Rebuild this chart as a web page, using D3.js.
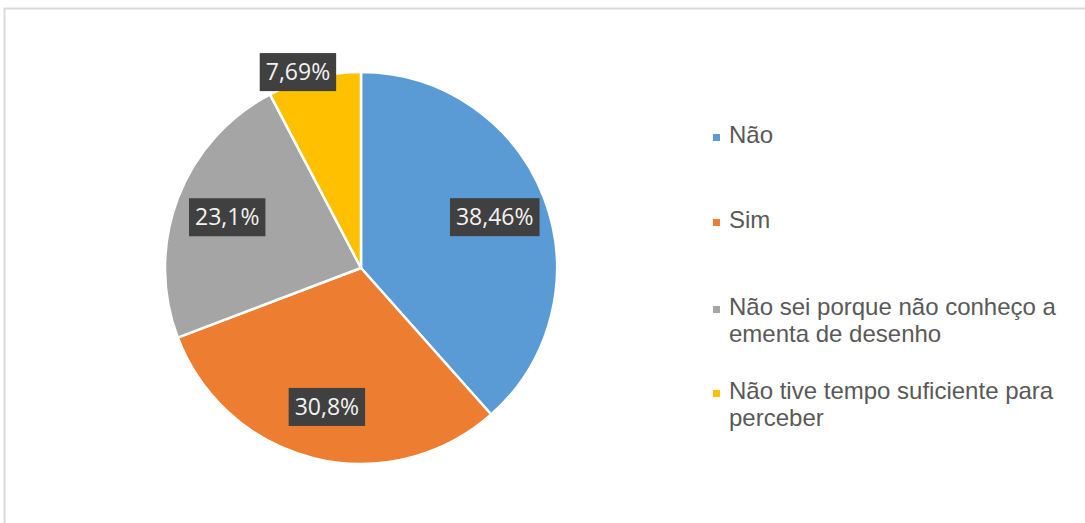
<html>
<head>
<script src="https://cdnjs.cloudflare.com/ajax/libs/d3/7.8.5/d3.min.js"></script>
<style>
  body { margin: 0; background: #fff; }
  svg { display: block; }
</style>
</head>
<body>
<script>
var categories = ["Não", "Sim", "Não sei porque não conheço a ementa de desenho", "Não tive tempo suficiente para perceber"];
var legendLines = [["Não"], ["Sim"], ["Não sei porque não conheço a", "ementa de desenho"], ["Não tive tempo suficiente para", "perceber"]];
var values = [38.46, 30.8, 23.1, 7.69];
var labels = ["38,46%", "30,8%", "23,1%", "7,69%"];
var colors = ["#5b9bd5", "#ed7d31", "#a5a5a5", "#ffc000"];

var width = 1085, height = 523;
var svg = d3.select("body").append("svg")
    .attr("width", width)
    .attr("height", height);

// chart frame
svg.append("rect")
    .attr("x", 4.5).attr("y", 8.5)
    .attr("width", width + 10).attr("height", height + 10)
    .attr("fill", "#fff")
    .attr("stroke", "#d9d9d9")
    .attr("stroke-width", 2);

var cx = 361, cy = 268, radius = 196;

var pie = d3.pie().sort(null).value(function (d) { return d; });
var arcs = pie(values);

var arc = d3.arc().innerRadius(0).outerRadius(radius);
var labelArc = d3.arc().innerRadius(radius * 0.73).outerRadius(radius * 0.73);

var pieGroup = svg.append("g")
    .attr("transform", "translate(" + cx + "," + cy + ")");

pieGroup.selectAll("path.slice")
    .data(arcs)
    .enter().append("path")
    .attr("class", "slice")
    .attr("d", arc)
    .attr("fill", function (d, i) { return colors[i]; })
    .attr("stroke", "#fff")
    .attr("stroke-width", 2.5)
    .attr("stroke-linejoin", "round");

// data labels with dark boxes
var labelGroups = pieGroup.selectAll("g.lbl")
    .data(arcs)
    .enter().append("g")
    .attr("class", "lbl")
    .attr("transform", function (d) {
        var c;
        if (d.data < 10) {
            // small slice: label sits outside, a bit further round
            var a = (d.startAngle + d.endAngle) / 2 - 0.07;
            c = [Math.sin(a) * radius * 1.05, -Math.cos(a) * radius * 1.05];
        } else {
            c = labelArc.centroid(d);
        }
        return "translate(" + c[0] + "," + c[1] + ")";
    });

labelGroups.each(function (d, i) {
    var g = d3.select(this);
    var t = g.append("text")
        .attr("text-anchor", "middle")
        .attr("dy", "0.35em")
        .attr("font-family", "'Open Sans', 'DejaVu Sans', sans-serif")
        .attr("font-size", 23)
        .attr("fill", "#f2f2f2")
        .text(labels[i]);
    var bb = t.node().getBBox();
    g.insert("rect", "text")
        .attr("x", bb.x - 6)
        .attr("y", -19)
        .attr("width", bb.width + 12)
        .attr("height", 38)
        .attr("fill", "#404040");
});

// legend
var legend = svg.append("g").attr("transform", "translate(713,0)");
var legendY = [137, 222, 309, 393];

var items = legend.selectAll("g.item")
    .data(categories)
    .enter().append("g")
    .attr("class", "item")
    .attr("transform", function (d, i) { return "translate(0," + legendY[i] + ")"; });

items.append("rect")
    .attr("x", 0).attr("y", -3)
    .attr("width", 7).attr("height", 7)
    .attr("fill", function (d, i) { return colors[i]; });

items.append("text")
    .attr("x", 16)
    .attr("y", 6)
    .attr("font-family", "'Liberation Sans', Arial, sans-serif")
    .attr("font-size", 24)
    .attr("fill", "#595959")
    .each(function (d, i) {
        var t = d3.select(this);
        legendLines[i].forEach(function (line, j) {
            t.append("tspan")
                .attr("x", 16)
                .attr("dy", j === 0 ? 0 : 27)
                .text(line);
        });
    });
</script>
</body>
</html>
